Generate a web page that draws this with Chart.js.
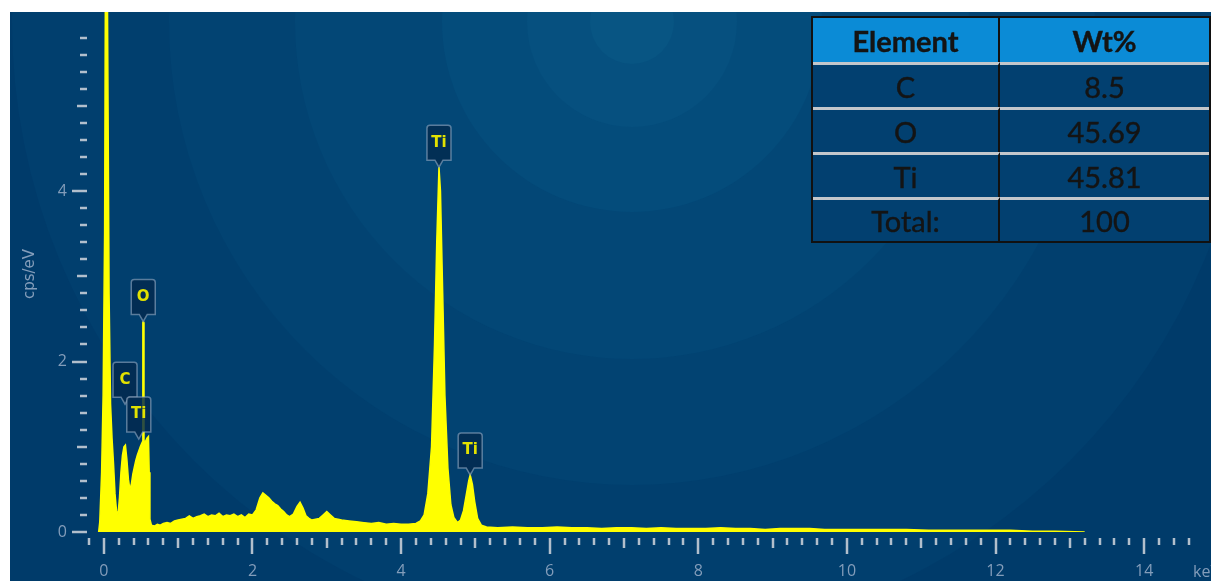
<!DOCTYPE html>
<html>
<head>
<meta charset="utf-8">
<script src="https://cdn.jsdelivr.net/npm/chart.js@4.4.0/dist/chart.umd.min.js"></script>
<style>
  html, body { margin: 0; padding: 0; background: #fff; }
  #wrap { position: relative; width: 1211px; height: 581px; overflow: hidden; }
  #spectrum { position: absolute; left: 0; top: 0; }
  #quant {
    position: absolute; left: 811px; top: 16px; width: 400px; height: 227px;
    box-sizing: border-box; border: 2px solid #111;
    display: grid; grid-template-columns: 187px 209px;
    grid-template-rows: 44px 45px 45px 45px 44px;
    font-family: Lato, "Open Sans", sans-serif; font-size: 29px; color: #141414;
    -webkit-text-stroke: 0.4px #141414;
  }
  #quant div {
    box-sizing: border-box; display: flex; align-items: center; justify-content: center;
    background: rgb(2, 64, 112);
  }
  #quant .head { background: #0b8bd6; font-weight: bold; }
  #quant .body { border-top: 3px solid #c3c7cb; }
  #quant .left { border-right: 2px solid #111; }
</style>
</head>
<body>
<div id="wrap">
  <canvas id="spectrum" width="1211" height="581"></canvas>
  <div id="quant"></div>
</div>
<script>
// EDS spectrum, energy in keV, counts in cps/eV
const energy = [
  -0.07, -0.055, -0.03, -0.01, 0.01, 0.03, 0.05, 0.07, 0.09, 0.11,
  0.13, 0.15, 0.17, 0.19, 0.21, 0.23, 0.25, 0.27, 0.29, 0.31,
  0.33, 0.35, 0.37, 0.39, 0.41, 0.43, 0.45, 0.47, 0.49, 0.51,
  0.52, 0.525, 0.535, 0.54, 0.56, 0.58, 0.6, 0.61, 0.62, 0.64,
  0.68, 0.72, 0.76, 0.8, 0.85, 0.9, 0.95, 1.0, 1.05, 1.1,
  1.15, 1.2, 1.25, 1.3, 1.35, 1.4, 1.45, 1.5, 1.55, 1.6,
  1.65, 1.7, 1.75, 1.8, 1.85, 1.9, 1.95, 2.0, 2.05, 2.1,
  2.14, 2.18, 2.22, 2.26, 2.3, 2.34, 2.38, 2.42, 2.46, 2.5,
  2.55, 2.6, 2.64, 2.68, 2.72, 2.76, 2.8, 2.85, 2.9, 2.95,
  3.0, 3.05, 3.1, 3.15, 3.2, 3.3, 3.4, 3.5, 3.6, 3.7,
  3.8, 3.9, 4.0, 4.1, 4.2, 4.26, 4.31, 4.36, 4.41, 4.45,
  4.48, 4.51, 4.53, 4.56, 4.59, 4.63, 4.67, 4.71, 4.76, 4.8,
  4.84, 4.88, 4.91, 4.93, 4.96, 4.99, 5.03, 5.08, 5.15, 5.3,
  5.5, 5.7, 5.9, 6.1, 6.3, 6.5, 6.7, 6.9, 7.1, 7.3,
  7.5, 7.7, 7.9, 8.1, 8.3, 8.5, 8.7, 8.9, 9.1, 9.3,
  9.5, 9.7, 9.9, 10.2, 10.5, 10.8, 11.1, 11.4, 11.8, 12.2,
  12.5, 12.8, 13.2
];
const cps = [
  0, 0.12, 0.7, 1.6, 3.5, 9, 6, 2.8, 1.5, 1.1,
  0.8, 0.45, 0.25, 0.2, 0.4, 0.7, 0.9, 1.0, 1.02, 0.85,
  0.62, 0.5, 0.56, 0.68, 0.76, 0.84, 0.9, 0.95, 1.0, 1.04,
  1.06, 2.46, 2.46, 1.07, 1.06, 1.1, 1.12, 0.7, 0.15, 0.08,
  0.07, 0.09, 0.08, 0.1, 0.11, 0.1, 0.13, 0.14, 0.15, 0.16,
  0.19, 0.16, 0.18, 0.19, 0.21, 0.18, 0.2, 0.19, 0.22, 0.18,
  0.2, 0.19, 0.21, 0.18, 0.2, 0.17, 0.21, 0.2, 0.26, 0.4,
  0.46, 0.43, 0.4, 0.36, 0.33, 0.31, 0.27, 0.24, 0.2, 0.18,
  0.21, 0.3, 0.35, 0.28, 0.19, 0.16, 0.14, 0.15, 0.16, 0.2,
  0.24, 0.2, 0.16, 0.15, 0.14, 0.13, 0.12, 0.11, 0.1, 0.11,
  0.09, 0.1, 0.09, 0.09, 0.1, 0.13, 0.2, 0.45, 1.0, 2.2,
  3.4, 4.28, 4.0, 2.8, 1.6, 0.75, 0.32, 0.17, 0.11, 0.14,
  0.25, 0.45, 0.6, 0.67, 0.56, 0.36, 0.16, 0.08, 0.06, 0.05,
  0.06, 0.05, 0.05, 0.06, 0.05, 0.05, 0.04, 0.05, 0.05, 0.04,
  0.05, 0.04, 0.04, 0.04, 0.05, 0.04, 0.04, 0.03, 0.04, 0.04,
  0.04, 0.03, 0.03, 0.03, 0.03, 0.03, 0.02, 0.02, 0.02, 0.02,
  0.01, 0.01, 0
];

// peak markers
const peakNames = ['C', 'O', 'Ti', 'Ti', 'Ti'];
const peakEnergy = [0.285, 0.53, 0.47, 4.51, 4.93];
const peakTip = [1.5, 2.47, 1.09, 4.28, 0.67];

const xLabels = [0, 2, 4, 6, 8, 10, 12, 14];
const yLabels = [0, 2, 4];

// quantification table
const tableHead = ['Element', 'Wt%'];
const elements = ['C', 'O', 'Ti', 'Total:'];
const weights = ['8.5', '45.69', '45.81', '100'];

const table = document.getElementById('quant');
function addCell(text, cls) {
  const d = document.createElement('div');
  d.className = cls;
  d.textContent = text;
  table.appendChild(d);
}
addCell(tableHead[0], 'head left');
addCell(tableHead[1], 'head');
elements.forEach((el, i) => {
  addCell(el, 'body left');
  addCell(weights[i], 'body');
});

const isStep = (v, step) => Math.abs(v / step - Math.round(v / step)) < 1e-6;

// no automatic label padding, the plot area is fixed by the panel
function pinScale(s, key, size) {
  s[key] = size;
  s.paddingLeft = 0;
  s.paddingRight = 0;
  s.paddingTop = 0;
  s.paddingBottom = 0;
}

// backdrop: navy panel with soft concentric rings
const backdrop = {
  id: 'backdrop',
  beforeDraw(chart) {
    const ctx = chart.ctx;
    const rings = [
      [900, 'rgb(0,59,106)'], [620, 'rgb(1,63,110)'], [463, 'rgb(2,67,114)'],
      [337, 'rgb(3,71,118)'], [190, 'rgb(4,76,123)'], [105, 'rgb(6,80,127)'],
      [42, 'rgb(8,85,131)']
    ];
    ctx.save();
    ctx.beginPath();
    ctx.rect(10, 12, 1201, 569);
    ctx.clip();
    ctx.fillStyle = 'rgb(0,58,105)';
    ctx.fillRect(10, 12, 1201, 569);
    rings.forEach(([r, c]) => {
      ctx.beginPath();
      ctx.arc(632, 22, r, 0, Math.PI * 2);
      ctx.fillStyle = c;
      ctx.fill();
    });
    ctx.restore();
  }
};

function drawTag(ctx, cx, tip, text) {
  const w = 24, h = 35, top = tip - 42, bot = top + h, r = 3;
  ctx.beginPath();
  ctx.moveTo(cx - w / 2 + r, top);
  ctx.lineTo(cx + w / 2 - r, top);
  ctx.quadraticCurveTo(cx + w / 2, top, cx + w / 2, top + r);
  ctx.lineTo(cx + w / 2, bot);
  ctx.lineTo(cx + 4, bot);
  ctx.lineTo(cx, tip);
  ctx.lineTo(cx - 4, bot);
  ctx.lineTo(cx - w / 2, bot);
  ctx.lineTo(cx - w / 2, top + r);
  ctx.quadraticCurveTo(cx - w / 2, top, cx - w / 2 + r, top);
  ctx.closePath();
  ctx.fillStyle = 'rgba(3,42,78,0.82)';
  ctx.fill();
  ctx.strokeStyle = 'rgba(150,172,196,0.6)';
  ctx.lineWidth = 1.5;
  ctx.stroke();
  ctx.fillStyle = '#e2e200';
  ctx.font = 'bold 15px "DejaVu Sans"';
  ctx.textAlign = 'center';
  ctx.textBaseline = 'middle';
  ctx.fillText(text, cx, top + h / 2);
}

const decorations = {
  id: 'decorations',
  afterDraw(chart) {
    const ctx = chart.ctx;
    const xs = chart.scales.x, ys = chart.scales.y;
    ctx.save();
    ctx.lineWidth = 2.5;
    ctx.strokeStyle = '#b2bfcc';
    xs.ticks.forEach(t => {
      if (!isStep(t.value, 0.2)) return;
      const n = Math.round(t.value);
      let len = 7;
      if (isStep(t.value, 1)) len = n % 2 === 0 ? 16 : 10;
      const px = Math.round(xs.getPixelForValue(t.value));
      ctx.beginPath();
      ctx.moveTo(px, 538);
      ctx.lineTo(px, 538 + len);
      ctx.stroke();
    });
    ys.ticks.forEach(t => {
      if (!isStep(t.value, 0.2)) return;
      const n = Math.round(t.value);
      let len = 7;
      if (isStep(t.value, 1)) len = n % 2 === 0 ? 15 : 10;
      const py = Math.round(ys.getPixelForValue(t.value));
      ctx.beginPath();
      ctx.moveTo(87, py);
      ctx.lineTo(87 - len, py);
      ctx.stroke();
    });

    peakNames.forEach((name, i) => {
      drawTag(ctx, xs.getPixelForValue(peakEnergy[i]), ys.getPixelForValue(peakTip[i]), name);
    });

    ctx.fillStyle = '#839dba';
    ctx.font = '16px "Open Sans"';
    ctx.textAlign = 'left';
    ctx.textBaseline = 'middle';
    ctx.fillText('keV', 1193, 572);
    ctx.translate(30, 274);
    ctx.rotate(-Math.PI / 2);
    ctx.textAlign = 'center';
    ctx.font = '15px "DejaVu Sans"';
    ctx.fillText('cps/eV', 0, 0);
    ctx.restore();
  }
};

const points = energy.map((e, i) => ({ x: e, y: cps[i] }));

new Chart(document.getElementById('spectrum').getContext('2d'), {
  type: 'line',
  data: {
    datasets: [{
      data: points,
      borderColor: '#ffff00',
      backgroundColor: '#ffff00',
      borderWidth: 1.5,
      pointRadius: 0,
      tension: 0,
      fill: 'origin'
    }]
  },
  options: {
    responsive: false,
    animation: false,
    layout: { padding: { top: 12, left: 0, right: 0, bottom: 0 } },
    plugins: { legend: { display: false }, tooltip: { enabled: false } },
    scales: {
      x: {
        type: 'linear',
        min: -0.2,
        max: 14.9,
        grid: { display: false, drawTicks: false },
        border: { display: false },
        afterFit: s => pinScale(s, 'height', 49),
        ticks: {
          stepSize: 0.2,
          autoSkip: false,
          maxRotation: 0,
          padding: 30,
          color: '#839dba',
          font: { family: 'Open Sans', size: 16 },
          callback: v => (isStep(v, 1) && xLabels.includes(Math.round(v))) ? String(Math.round(v)) : ''
        }
      },
      y: {
        min: 0,
        max: 6.1,
        grid: { display: false, drawTicks: false },
        border: { display: false },
        afterFit: s => pinScale(s, 'width', 89),
        ticks: {
          stepSize: 0.2,
          autoSkip: false,
          padding: 22,
          color: '#839dba',
          font: { family: 'Open Sans', size: 16 },
          callback: v => (isStep(v, 1) && yLabels.includes(Math.round(v))) ? String(Math.round(v)) : ''
        }
      }
    }
  },
  plugins: [backdrop, decorations]
});
</script>
</body>
</html>
